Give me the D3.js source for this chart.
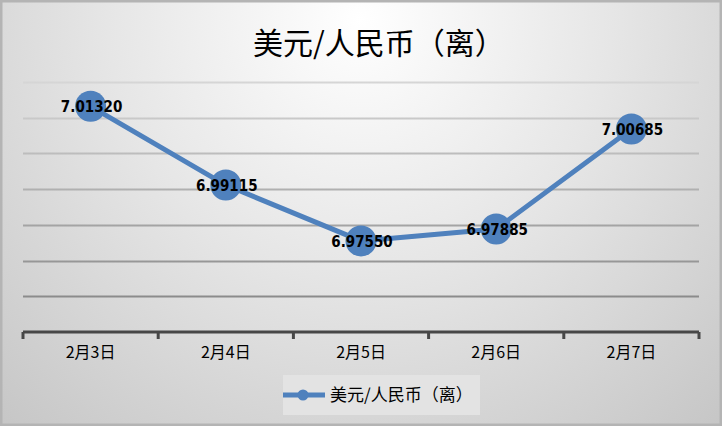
<!DOCTYPE html>
<html>
<head>
<meta charset="utf-8">
<script src="https://cdn.jsdelivr.net/npm/d3@7"></script>
<style>
  html, body { margin: 0; padding: 0; background: #fff; }
  svg { display: block; }
</style>
</head>
<body>
<div class="chart"></div>
<script>
const title = '美元/人民币（离）';
const dates = ['2月3日', '2月4日', '2月5日', '2月6日', '2月7日'];
const rates = [7.01320, 6.99115, 6.97550, 6.97885, 7.00685];
const gridValues = [6.96, 6.97, 6.98, 6.99, 7.00, 7.01, 7.02];

const width = 722;
const height = 426;
const plot = { left: 23, right: 699, top: 82, bottom: 332 };

const svg = d3.select('.chart')
    .append('svg')
    .attr('width', width)
    .attr('height', height);

const defs = svg.append('defs');

const bg = defs.append('radialGradient')
    .attr('id', 'bg')
    .attr('gradientUnits', 'userSpaceOnUse')
    .attr('cx', 360).attr('cy', 20)
    .attr('r', 560);
bg.append('stop').attr('offset', '0%').attr('stop-color', '#ffffff');
bg.append('stop').attr('offset', '45%').attr('stop-color', '#e6e6e6');
bg.append('stop').attr('offset', '100%').attr('stop-color', '#c4c4c4');

const gridGrad = defs.append('linearGradient')
    .attr('id', 'gridGrad')
    .attr('gradientUnits', 'userSpaceOnUse')
    .attr('x1', 0).attr('y1', 80)
    .attr('x2', 0).attr('y2', 300);
gridGrad.append('stop').attr('offset', '0%').attr('stop-color', '#d6d6d6');
gridGrad.append('stop').attr('offset', '100%').attr('stop-color', '#8a8a8a');

// background and frame
svg.append('rect')
    .attr('x', 1).attr('y', 1)
    .attr('width', width - 2).attr('height', height - 2)
    .attr('fill', 'url(#bg)')
    .attr('stroke', '#b4b4b4')
    .attr('stroke-width', 3);

svg.append('text')
    .attr('x', 379)
    .attr('y', 54)
    .attr('text-anchor', 'middle')
    .attr('font-family', '"Noto Sans CJK SC", sans-serif')
    .attr('font-size', 30)
    .attr('fill', '#000')
    .text(title);

const xScale = d3.scaleBand()
    .domain(dates)
    .range([plot.left, plot.right]);

const yScale = d3.scaleLinear()
    .domain([6.95, 7.02])
    .range([plot.bottom, plot.top]);

// gridlines
svg.append('g')
    .selectAll('line')
    .data(gridValues)
    .enter()
    .append('line')
    .attr('x1', plot.left)
    .attr('x2', plot.right)
    .attr('y1', d => Math.round(yScale(d)) + 0.5)
    .attr('y2', d => Math.round(yScale(d)) + 0.5)
    .attr('stroke', 'url(#gridGrad)')
    .attr('stroke-width', 2);

// x axis
const xAxis = d3.axisBottom(xScale).tickSize(0).tickPadding(15);
const axisG = svg.append('g')
    .attr('transform', `translate(0, ${plot.bottom})`)
    .call(xAxis);
axisG.select('.domain').remove();
axisG.selectAll('text')
    .attr('font-family', '"Noto Sans CJK SC", sans-serif')
    .attr('font-size', 16)
    .attr('fill', '#000');

axisG.append('line')
    .attr('x1', plot.left)
    .attr('x2', plot.right)
    .attr('y1', 0).attr('y2', 0)
    .attr('stroke', '#474747')
    .attr('stroke-width', 3);

const edges = dates.map(d => xScale(d)).concat([plot.right]);
axisG.selectAll('.edge')
    .data(edges)
    .enter()
    .append('line')
    .attr('class', 'edge')
    .attr('x1', d => d).attr('x2', d => d)
    .attr('y1', 0).attr('y2', 7)
    .attr('stroke', '#474747')
    .attr('stroke-width', 3);

// series
const cx = (d, i) => xScale(dates[i]) + xScale.bandwidth() / 2;

const line = d3.line()
    .x((d, i) => cx(d, i))
    .y(d => yScale(d));

svg.append('path')
    .datum(rates)
    .attr('d', line)
    .attr('fill', 'none')
    .attr('stroke', '#4f81bd')
    .attr('stroke-width', 5)
    .attr('stroke-linejoin', 'round');

svg.selectAll('.dot')
    .data(rates)
    .enter()
    .append('circle')
    .attr('class', 'dot')
    .attr('cx', cx)
    .attr('cy', d => yScale(d))
    .attr('r', 15.5)
    .attr('fill', '#4f81bd');

svg.selectAll('.value')
    .data(rates)
    .enter()
    .append('text')
    .attr('class', 'value')
    .attr('x', (d, i) => cx(d, i) + 1)
    .attr('y', d => yScale(d) + 6)
    .attr('text-anchor', 'middle')
    .attr('font-family', '"Liberation Sans Narrow", "DejaVu Sans Condensed", sans-serif')
    .attr('font-weight', 'bold')
    .attr('font-size', 15)
    .attr('fill', '#000')
    .text(d => d.toFixed(5));

// legend
const legend = svg.append('g').attr('id', 'legend');
legend.append('rect')
    .attr('x', 283).attr('y', 375)
    .attr('width', 197).attr('height', 40)
    .attr('fill', '#e3e3e3');
legend.append('line')
    .attr('x1', 283).attr('x2', 325)
    .attr('y1', 395).attr('y2', 395)
    .attr('stroke', '#4f81bd')
    .attr('stroke-width', 5);
legend.append('circle')
    .attr('cx', 303).attr('cy', 395)
    .attr('r', 5.5)
    .attr('fill', '#4f81bd');
legend.append('text')
    .attr('x', 330).attr('y', 401)
    .attr('font-family', '"Noto Sans CJK SC", sans-serif')
    .attr('font-size', 17)
    .attr('fill', '#000')
    .text(title);
</script>
</body>
</html>
